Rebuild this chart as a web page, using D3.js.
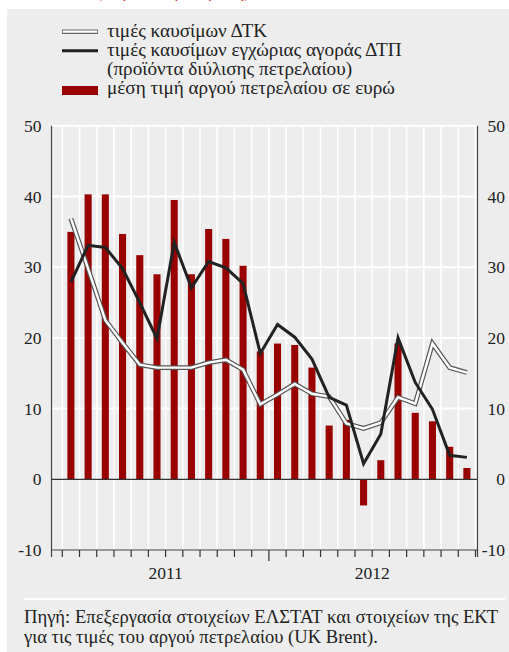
<!DOCTYPE html>
<html>
<head>
<meta charset="utf-8">
<script src="https://cdn.jsdelivr.net/npm/d3@7"></script>
<style>
  body { margin: 0; background: #fff; }
  svg text { font-family: "Liberation Serif", "Times New Roman", Tinos, "DejaVu Serif", serif !important; }
</style>
</head>
<body>
<div class="chart"></div>
<script>
const months = [
  '2011-01', '2011-02', '2011-03', '2011-04', '2011-05', '2011-06',
  '2011-07', '2011-08', '2011-09', '2011-10', '2011-11', '2011-12',
  '2012-01', '2012-02', '2012-03', '2012-04', '2012-05', '2012-06',
  '2012-07', '2012-08', '2012-09', '2012-10', '2012-11', '2012-12'
];
const years = ['2011', '2012'];
// μέση τιμή αργού πετρελαίου σε ευρώ (bars)
const crudeOil = [
  35.0, 40.3, 40.3, 34.7, 31.7, 29.0, 39.5, 29.0, 35.4, 34.0, 30.2, 18.1,
  19.2, 19.0, 15.8, 7.6, 8.4, -3.7, 2.7, 19.2, 9.4, 8.2, 4.6, 1.6
];
// τιμές καυσίμων εγχώριας αγοράς ΔΤΠ (black line)
const domesticPpi = [
  27.9, 33.1, 32.8, 29.8, 25.0, 19.9, 33.5, 27.1, 30.8, 29.9, 27.7, 17.8,
  21.9, 20.1, 17.0, 11.6, 10.5, 2.2, 6.4, 20.0, 13.7, 9.9, 3.4, 3.1
];
// τιμές καυσίμων ΔΤΚ (white line)
const fuelCpi = [
  36.9, 29.8, 22.5, 19.3, 16.2, 15.8, 15.8, 15.8, 16.5, 16.9, 15.5, 10.6,
  12.0, 13.5, 12.1, 11.7, 7.9, 7.2, 8.0, 11.6, 10.7, 19.2, 15.8, 15.1
];
const yTicks = [-10, 0, 10, 20, 30, 40, 50];
const legendLabels = [
  'τιμές καυσίμων ΔΤΚ',
  'τιμές καυσίμων εγχώριας αγοράς ΔΤΠ',
  '(προϊόντα διύλισης πετρελαίου)',
  'μέση τιμή αργού πετρελαίου σε ευρώ'
];
const sourceLines = [
  'Πηγή: Επεξεργασία στοιχείων ΕΛΣΤΑΤ και στοιχείων της ΕΚΤ',
  'για τις τιμές του αργού πετρελαίου (UK Brent).'
];

const w = 509;
const h = 652;
const red = '#990000';
const ink = '#222';
const serif = '"Liberation Serif", "Times New Roman", Tinos, "DejaVu Serif", serif';

const svg = d3.select('.chart')
  .append('svg')
  .attr('width', w)
  .attr('height', h)
  .attr('font-family', serif);

// cut-off title line above the panel
svg.append('text')
  .attr('x', 96)
  .attr('y', -3)
  .attr('fill', '#d03030')
  .style('font-size', '18px')
  .text('(ετήσια % μεταβολή)');

svg.append('rect')
  .attr('x', 7)
  .attr('y', 9)
  .attr('width', w - 7)
  .attr('height', h - 9)
  .attr('fill', '#ededed');

const plot = { left: 51.5, right: 477.5, x0: 62.3, x1: 475.5, top: 125.8, bottom: 550 };

const xScale = d3.scaleBand()
  .domain(months)
  .range([plot.x0, plot.x1])
  .paddingInner(0.59)
  .paddingOuter(0.295);
const step = xScale.step();
const cx = (m) => xScale(m) + xScale.bandwidth() / 2;
const boundaries = months.map((m) => cx(m) - step / 2).concat([plot.x1]);

const yScale = d3.scaleLinear()
  .domain([-10, 50])
  .range([plot.bottom, plot.top]);

// grid
svg.append('g')
  .selectAll('line')
  .data(boundaries)
  .enter()
  .append('line')
  .attr('x1', (d) => d)
  .attr('x2', (d) => d)
  .attr('y1', plot.top)
  .attr('y2', plot.bottom)
  .attr('stroke', '#fff')
  .attr('stroke-width', 1.6);

svg.append('g')
  .selectAll('line')
  .data(yTicks.filter((d) => d !== 0))
  .enter()
  .append('line')
  .attr('x1', plot.left)
  .attr('x2', plot.right)
  .attr('y1', (d) => yScale(d))
  .attr('y2', (d) => yScale(d))
  .attr('stroke', '#fff')
  .attr('stroke-width', 2);

// bars
svg.append('g')
  .selectAll('rect')
  .data(months)
  .enter()
  .append('rect')
  .attr('x', (d) => xScale(d))
  .attr('width', xScale.bandwidth())
  .attr('y', (d, i) => yScale(Math.max(0, crudeOil[i])))
  .attr('height', (d, i) => Math.abs(yScale(crudeOil[i]) - yScale(0)))
  .attr('fill', red);

// zero line
svg.append('line')
  .attr('x1', plot.left)
  .attr('x2', plot.right)
  .attr('y1', yScale(0))
  .attr('y2', yScale(0))
  .attr('stroke', '#333')
  .attr('stroke-width', 1.3);

// lines
const line = (values) => d3.line()
  .x((d, i) => cx(months[i]))
  .y((d) => yScale(d))(values);

svg.append('path')
  .attr('d', line(fuelCpi))
  .attr('fill', 'none')
  .attr('stroke', '#555')
  .attr('stroke-width', 4.8);
svg.append('path')
  .attr('d', line(fuelCpi))
  .attr('fill', 'none')
  .attr('stroke', '#fff')
  .attr('stroke-width', 2.4);

svg.append('path')
  .attr('d', line(domesticPpi))
  .attr('fill', 'none')
  .attr('stroke', ink)
  .attr('stroke-width', 3);

// axes
const fmt = (d) => String(d);
const leftAxis = svg.append('g')
  .attr('transform', `translate(${plot.left}, 0)`)
  .call(d3.axisLeft(yScale).tickValues(yTicks).tickFormat(fmt).tickSize(0).tickPadding(10));
const rightAxis = svg.append('g')
  .attr('transform', `translate(${plot.right}, 0)`)
  .call(d3.axisRight(yScale).tickValues(yTicks).tickFormat(fmt).tickSize(0).tickPadding(10));

[leftAxis, rightAxis].forEach((ax) => {
  ax.attr('font-family', serif).attr('font-size', 17.5);
  ax.select('.domain').remove();
  ax.selectAll('text').attr('fill', ink);
});
rightAxis.selectAll('text')
  .attr('text-anchor', 'end')
  .attr('x', 505 - plot.right);

[plot.left, plot.right].forEach((x) => {
  svg.append('line')
    .attr('x1', x)
    .attr('x2', x)
    .attr('y1', plot.top)
    .attr('y2', 557)
    .attr('stroke', '#444')
    .attr('stroke-width', 1.2);
});

// bottom axis with month ticks
const bottomAxis = svg.append('g')
  .attr('transform', `translate(0, ${plot.bottom})`);
bottomAxis.append('line')
  .attr('x1', plot.left)
  .attr('x2', plot.right)
  .attr('stroke', '#333')
  .attr('stroke-width', 1.2);
bottomAxis.selectAll('.tick')
  .data(boundaries)
  .enter()
  .append('line')
  .attr('class', 'tick')
  .attr('x1', (d) => d)
  .attr('x2', (d) => d)
  .attr('y1', 0)
  .attr('y2', (d, i) => (i === 12 ? 11 : 7))
  .attr('stroke', '#333')
  .attr('stroke-width', 1.2);

bottomAxis.selectAll('.year')
  .data(years)
  .enter()
  .append('text')
  .attr('class', 'year')
  .attr('x', (d, i) => (boundaries[i * 12] + boundaries[i * 12 + 12]) / 2)
  .attr('y', 29)
  .attr('text-anchor', 'middle')
  .attr('fill', ink)
  .style('font-size', '17.5px')
  .text((d) => d);

// legend
const legend = svg.append('g')
  .attr('class', 'legend')
  .attr('transform', 'translate(62, 0)');

legend.append('line')
  .attr('x1', 0).attr('x2', 36)
  .attr('y1', 31.7).attr('y2', 31.7)
  .attr('stroke', '#666').attr('stroke-width', 4.6);
legend.append('line')
  .attr('x1', 0.8).attr('x2', 35.2)
  .attr('y1', 31.7).attr('y2', 31.7)
  .attr('stroke', '#fff').attr('stroke-width', 2.2);
legend.append('line')
  .attr('x1', 0).attr('x2', 36)
  .attr('y1', 50.7).attr('y2', 50.7)
  .attr('stroke', ink).attr('stroke-width', 3);
legend.append('rect')
  .attr('x', 0).attr('y', 86)
  .attr('width', 36).attr('height', 9)
  .attr('fill', red);

legend.selectAll('text')
  .data(legendLabels)
  .enter()
  .append('text')
  .attr('x', 45)
  .attr('y', (d, i) => 37 + i * 19)
  .attr('fill', ink)
  .style('font-size', '19.2px')
  .text((d) => d);

// separator and source note
svg.append('line')
  .attr('x1', 24).attr('x2', 505)
  .attr('y1', 599).attr('y2', 599)
  .attr('stroke', '#fff').attr('stroke-width', 2);

svg.selectAll('.source')
  .data(sourceLines)
  .enter()
  .append('text')
  .attr('class', 'source')
  .attr('x', 24)
  .attr('y', (d, i) => 623 + i * 20)
  .attr('fill', ink)
  .style('font-size', '18.6px')
  .text((d) => d);
</script>
</body>
</html>
